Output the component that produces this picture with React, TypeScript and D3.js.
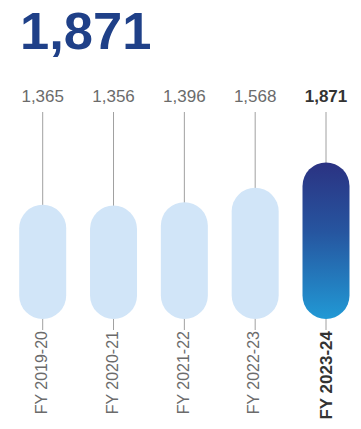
import React from "react";
import * as d3 from "d3";

const categories = ["FY 2019-20", "FY 2020-21", "FY 2021-22", "FY 2022-23", "FY 2023-24"];
const values = [1365, 1356, 1396, 1568, 1871];
const valueLabels = ["1,365", "1,356", "1,396", "1,568", "1,871"];
const headline = "1,871";
const highlightIndex = 4;

const W = 361;
const H = 429;
const FONT = "'Liberation Sans', Arial, Helvetica, sans-serif";

export default function App() {
  const x = d3.scalePoint<string>().domain(categories).range([42.7, 326]);
  const y = d3.scaleLinear().domain([0, 2000]).range([319, 151.6]);
  const barW = 47;
  const baseY = y(0);

  return (
    <svg
      width={W}
      height={H}
      style={{ position: "absolute", left: 0, top: 0, display: "block" }}
      fontFamily={FONT}
    >
      <defs>
        <linearGradient id="hl" x1="0" y1="0" x2="0" y2="1">
          <stop offset="0%" stopColor="#2b3282" />
          <stop offset="45%" stopColor="#2656a0" />
          <stop offset="100%" stopColor="#2199d5" />
        </linearGradient>
      </defs>
      <rect x={0} y={0} width={W} height={H} fill="#ffffff" />
      <text x={20} y={49} fontSize={52.5} fontWeight="bold" fill="#1f4088">
        {headline}
      </text>
      {categories.map((c, i) => {
        const cx = x(c) as number;
        const top = y(values[i]);
        const hl = i === highlightIndex;
        return (
          <g key={c}>
            <line x1={cx} x2={cx} y1={112} y2={330} stroke="#a0a0a0" strokeWidth={1} />
            <rect
              x={cx - barW / 2}
              y={top}
              width={barW}
              height={baseY - top}
              rx={barW / 2}
              ry={barW / 2}
              fill={hl ? "url(#hl)" : "#d1e5f8"}
            />
            <text
              x={cx}
              y={102}
              textAnchor="middle"
              fontSize={17}
              fontWeight={hl ? "bold" : "normal"}
              fill={hl ? "#333333" : "#6b6b6b"}
            >
              {valueLabels[i]}
            </text>
            <text
              transform={`translate(${cx},${331}) rotate(-90)`}
              textAnchor="end"
              dy={hl ? "0.36em" : "0.26em"}
              fontSize={hl ? 17 : 16}
              fontWeight={hl ? "bold" : "normal"}
              fill={hl ? "#333333" : "#6b6b6b"}
            >
              {c}
            </text>
          </g>
        );
      })}
    </svg>
  );
}
